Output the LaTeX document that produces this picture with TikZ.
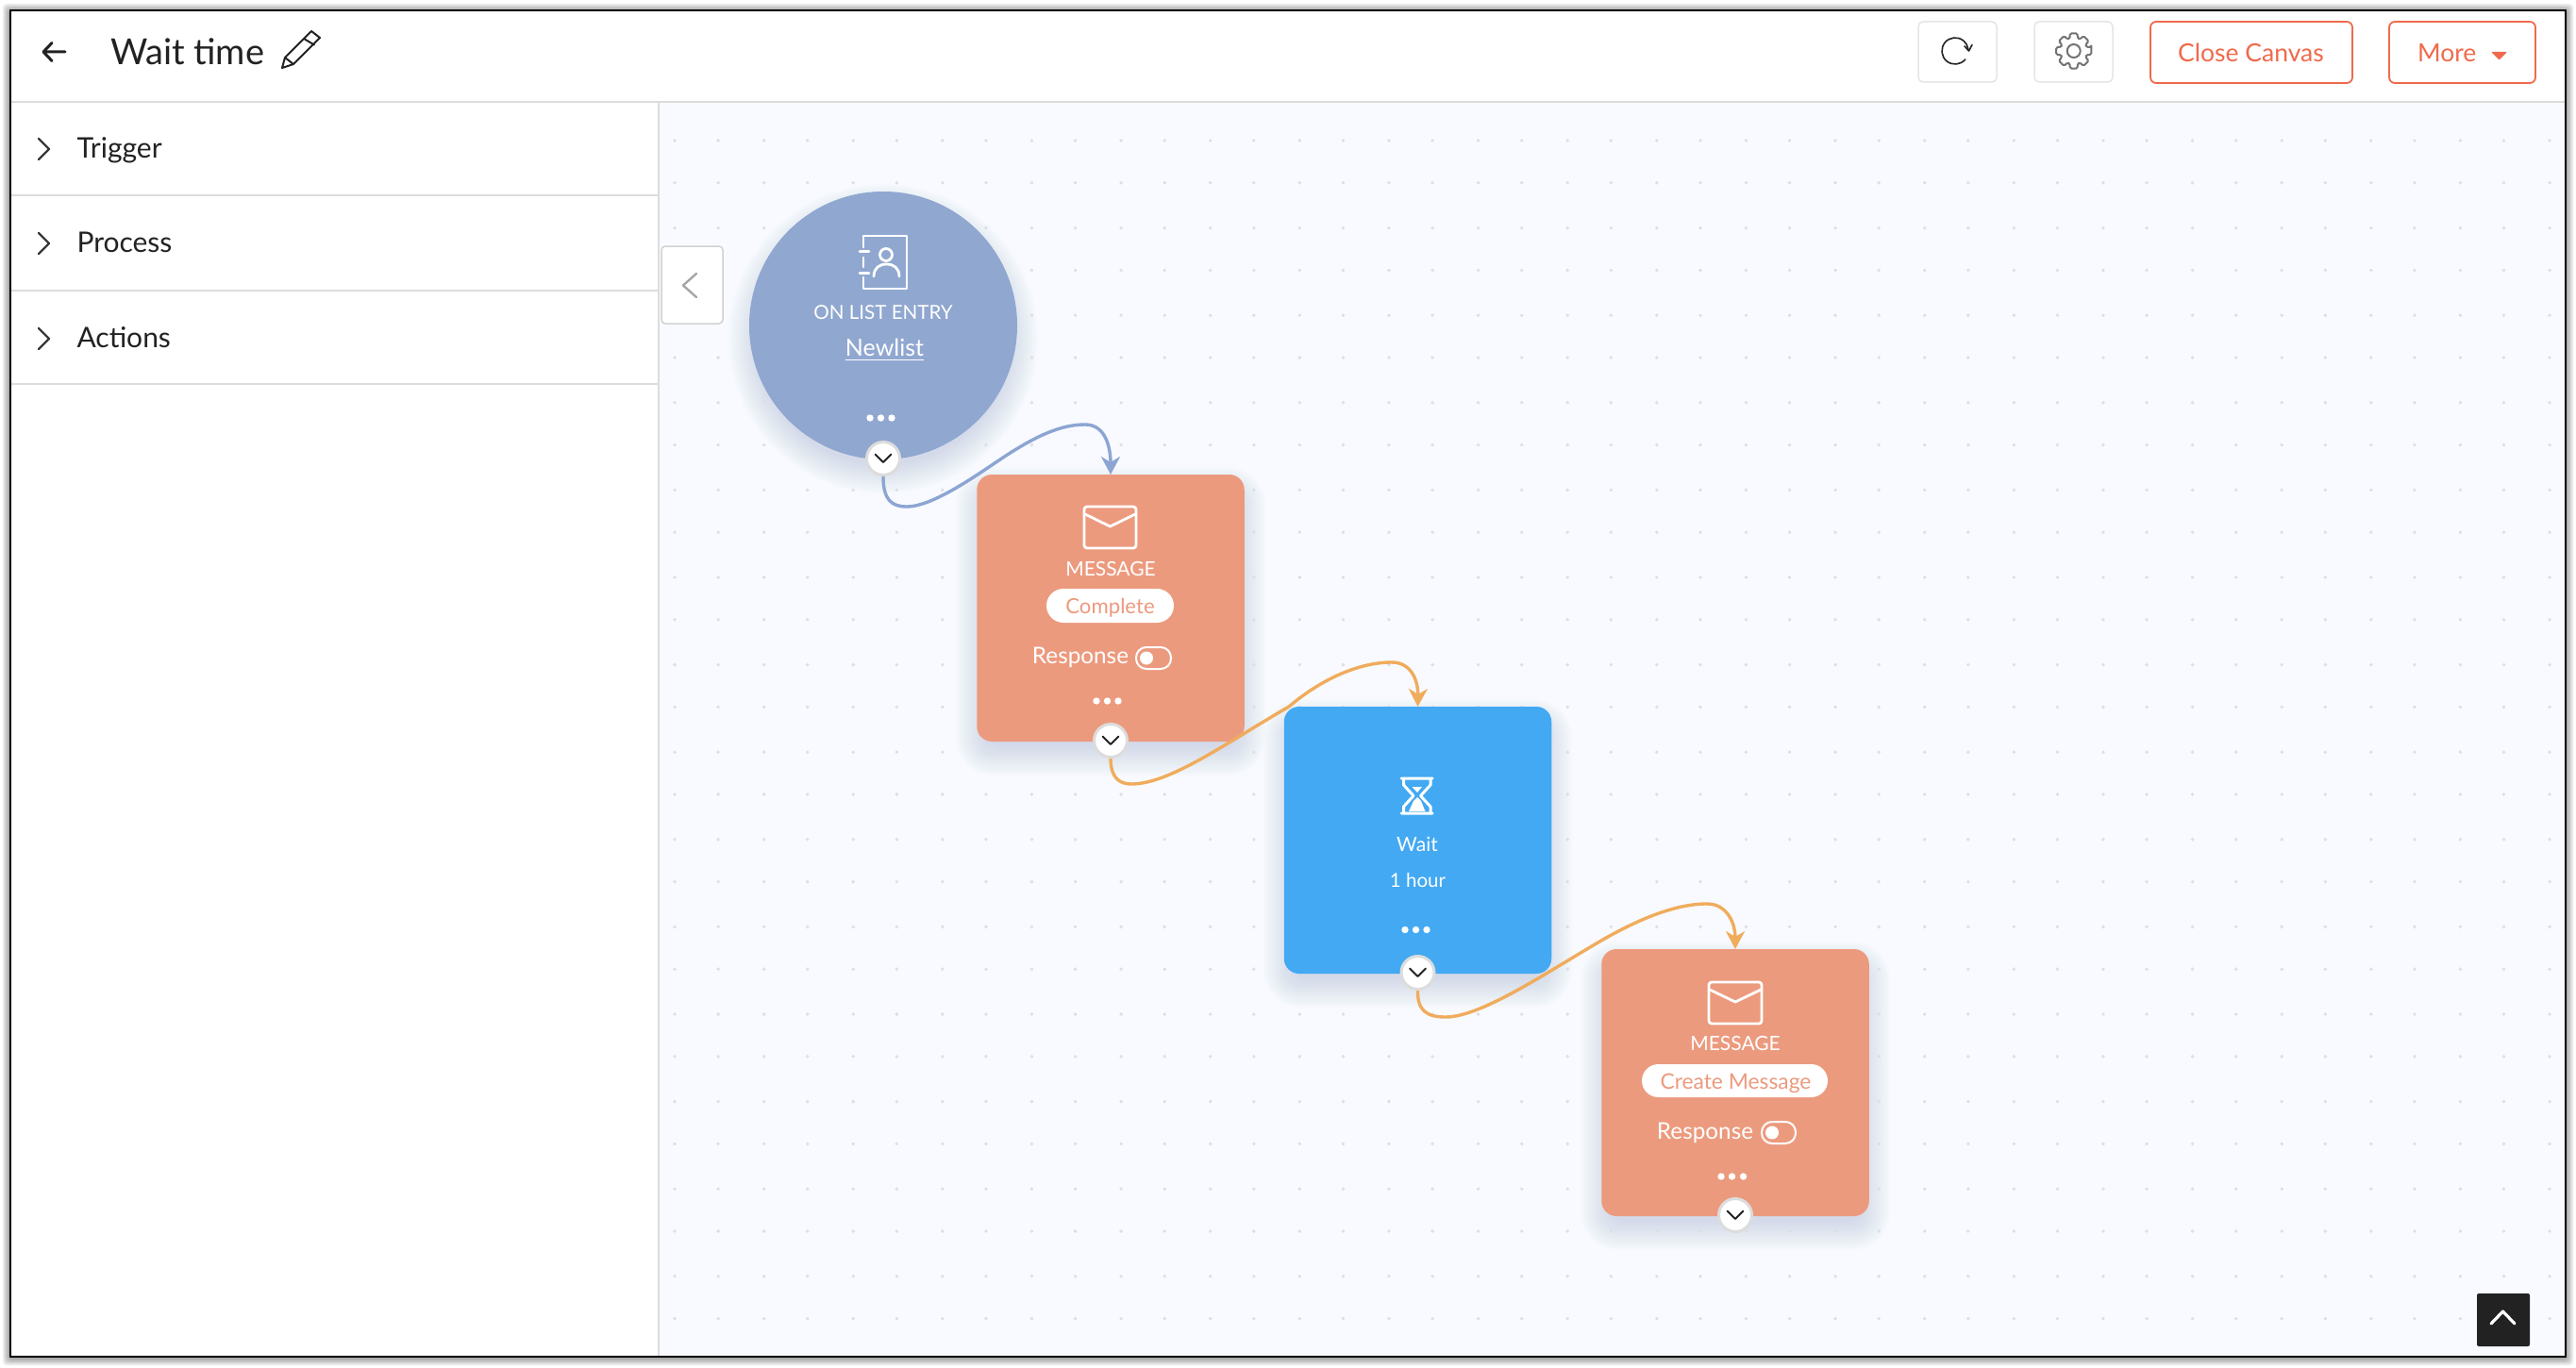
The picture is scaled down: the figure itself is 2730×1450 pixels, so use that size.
\documentclass[tikz,border=0pt]{standalone}
\usepackage{fontspec}
\setmainfont{Lato}
\usetikzlibrary{arrows.meta,calc}
\definecolor{canvasbg}{HTML}{F8FAFF}
\definecolor{griddot}{HTML}{DCDFE5}
\definecolor{rulec}{HTML}{DCDCDC}
\definecolor{inkc}{HTML}{222222}
\definecolor{accent}{HTML}{EF6A4C}
\definecolor{trigc}{HTML}{90A7D0}
\definecolor{msgc}{HTML}{EC9A7E}
\definecolor{waitc}{HTML}{42A9F2}
\definecolor{wireo}{HTML}{F0AC5C}
\definecolor{wireb}{HTML}{8CA5D3}
\definecolor{shadowc}{HTML}{6F8BB5}
\newcommand{\fsz}[1]{\fontsize{#1}{#1}\selectfont}
\newcommand{\boxshadow}[4]{%
  \foreach \i in {-8,-6,...,22}{
    \fill[shadowc,opacity=.017,rounded corners={18+max(\i,0)}]
      ({#1-\i},{#2-\i+14}) rectangle ({#3+\i},{#4+\i+14});
  }}
\tikzset{
  x=1pt,y=-1pt,
  txt/.style={inner sep=0pt,outer sep=0pt,anchor=base},
  txtl/.style={inner sep=0pt,outer sep=0pt,anchor=base west},
  wlabel/.style={txt,text=white},
  flow/.style={inner sep=0pt,outer sep=0pt,minimum width=283.5pt,minimum height=283pt,rounded corners=16pt},
  chev/.style={circle,fill=white,draw=rulec,line width=3pt,minimum size=35pt,inner sep=0pt},
  wire/.style={line width=3.4pt,-{Stealth[length=19pt,width=20pt,inset=6pt]}},
  iconw/.style={draw=white,line width=2.8pt,line cap=round,line join=round},
  tool/.style={draw=black!10,fill=white,line width=1.5pt,rounded corners=5pt},
  acc/.style={draw=accent,fill=white,line width=1.8pt,rounded corners=6pt},
  ruleln/.style={draw=rulec,line width=2pt},
  menuchev/.style={draw=inkc!90,line width=2.2pt,line cap=round,line join=round},
}
\begin{document}
\begin{tikzpicture}
\useasboundingbox (0,0) rectangle (2730,1450);
\fill[white] (0,0) rectangle (2730,1450);
% window shadow
\foreach \i in {1,...,5}{
  \fill[black,opacity=.08,rounded corners=4pt] ({11-\i*1.6},{11-\i*1.6+1}) rectangle ({2719+\i*1.6},{1438+\i*1.6+1});
}
\fill[white] (11,11) rectangle (2719,1438);
\fill[canvasbg] (698,108) rectangle (2719,1438);
% shadows
\foreach \i in {-8,-6,...,22}{
  \fill[shadowc,opacity=.017] (936,359) circle[radius={142+\i}];
}
\boxshadow{1035}{503}{1319}{786}
\boxshadow{1361}{749}{1644}{1032}
\boxshadow{1697}{1006}{1981}{1289}
% dot grid
\foreach \k in {0,...,42}{
  \foreach \j in {0,...,27}{
    \fill[griddot] ({715+47.31*\k-1.2*mod(\k,2)},{149+46.3*\j-1.5*mod(\j,2)}) circle[radius=1.9];
  }
}
% header and sidebar
\draw[draw=rulec,line width=2.4pt] (11,108) -- (2719,108);
\draw[ruleln] (698,108) -- (698,1438);
\draw[ruleln] (11,207) -- (698,207);
\draw[ruleln] (11,308) -- (698,308);
\draw[ruleln] (11,407) -- (698,407);
% header left
\draw[draw=inkc,line width=3pt,line cap=round,line join=round] (69,55) -- (46,55) (55,45.5) -- (46,55) -- (55,64.5);
\node[txtl,text=inkc,font=\fsz{38}] (title) at (117,69) {Wait time};
\draw[draw=inkc,line width=2pt,line join=round,line cap=round]
  (299,72) -- (302,61) -- (330,33) -- (339,40) -- (311,68) -- cycle
  (322,41) -- (333,47.5) (302,61) -- (311,68);
% header right
\draw[tool] (2033,23) rectangle (2116,87);
\draw[tool] (2156,23) rectangle (2239,87);
\draw[draw=inkc,line width=1.6pt,line cap=round] (2072,54) ++(40:14) arc[start angle=40,end angle=352,radius=14];
\draw[draw=inkc,line width=1.6pt,line cap=round,line join=round] (2082,49) -- (2086.5,54) -- (2090,47.5);
\begin{scope}[shift={(2197.7,54)}]
  \draw[draw=black!55,line width=2pt,rounded corners=1.5pt,line join=round] (-12:19)
    \foreach \a in {0,45,...,315}{ -- (\a-12:19) -- (\a+12:19) -- (\a+17:14) -- (\a+28:14) } -- cycle;
  \draw[draw=black!55,line width=2pt] (0,0) circle[radius=7];
\end{scope}
\draw[acc] (2279,23) rectangle (2493,88);
\node[txt,text=accent,font=\fsz{26.5}] (close) at (2385.5,66) {Close Canvas};
\draw[acc] (2532,23) rectangle (2687,88);
\node[txtl,text=accent,font=\fsz{26.5}] (more) at (2562,66) {More};
\fill[accent,rounded corners=1pt] (2640,55) -- (2657,55) -- (2648.5,63.5) -- cycle;
% sidebar
\foreach \y/\nm/\t/\b in {158/trig/Trigger/167.5,258/proc/Process/267.5,359/acts/Actions/368}{
  \draw[menuchev] (41,{\y-11}) -- (52,\y) -- (41,{\y+11});
  \node[txtl,text=inkc,font=\fsz{30}] (\nm) at (81.5,\b) {\t};
}
% collapse tab
\draw[draw=black!18,fill=white,line width=1.5pt,rounded corners=4pt] (701,261) rectangle (766,343);
\draw[draw=black!35,line width=2.4pt,line cap=round,line join=round] (738,290) -- (724,302.5) -- (738,315);
% bottom-right
\fill[inkc,rounded corners=2pt] (2625,1371) rectangle (2681,1427);
\draw[draw=white,line width=3.2pt,line cap=round,line join=round] (2640,1403) -- (2652.5,1390) -- (2665,1403);
% nodes
\node[circle,fill=trigc,minimum size=284pt,inner sep=0pt,outer sep=0pt] (listnode) at (936,345) {};
\node[flow,fill=msgc] (msgone) at (1177,644.5) {};
\node[flow,fill=waitc] (waitnode) at (1502.5,890.5) {};
\node[flow,fill=msgc] (msgtwo) at (1839,1147.5) {};
% trigger content
\draw[iconw] (915,262) -- (915,250) -- (961,250) -- (961,306) -- (915,306) -- (915,294);
\draw[iconw] (915,273) -- (915,283);
\draw[iconw] (911,266.5) -- (921,266.5) (911,289.5) -- (921,289.5);
\draw[iconw] (939,270) circle[radius=6.5];
\draw[iconw] (926,293) .. controls (926,284) and (932,280) .. (939.5,280) .. controls (947,280) and (953,284) .. (953,293);
\node[wlabel,font=\fsz{20.6}] (listlabel) at (936,338.5) {ON LIST ENTRY};
\node[wlabel,font=\fsz{25}] (newlist) at (937.5,377.5) {Newlist};
\draw[draw=white,line width=1.8pt] ([yshift=-4pt]newlist.base west) -- ([yshift=-4pt]newlist.base east);
\foreach \x in {922,933.5,945}{\fill[white] (\x,443) circle[radius=3.7];}
% message one content
\draw[iconw,rounded corners=3pt] (1149,537) rectangle (1204,581);
\draw[iconw] (1150,545) -- (1176.5,558) -- (1203,545);
\node[wlabel,font=\fsz{21}] (msgonelabel) at (1177,610.5) {MESSAGE};
\fill[white,rounded corners=18pt] (1109,624) rectangle (1244,660);
\node[txt,text=msgc,font=\fsz{22.2}] (complete) at (1176.5,650.5) {Complete};
\node[wlabel,font=\fsz{24.3}] (respone) at (1145,703.5) {Response};
\draw[draw=white,line width=2pt,rounded corners=11pt] (1204,686) rectangle (1241,709);
\fill[white] (1215,697.5) circle[radius=7];
\foreach \x in {1162,1173.5,1185}{\fill[white] (\x,743) circle[radius=3.7];}
% wait content
\draw[draw=white,line width=3pt,line cap=round,line join=round]
  (1485,825) -- (1518,825) (1485,862) -- (1518,862)
  (1487.5,825) -- (1487.5,832) -- (1498,843.5) -- (1487.5,855) -- (1487.5,862)
  (1516,825) -- (1516,832) -- (1505.5,843.5) -- (1516,855) -- (1516,862);
\fill[white] (1496.5,834) -- (1507,834) -- (1502,840) -- cycle;
\fill[white] (1493,860) -- (1510.5,860) -- (1506,849) -- (1502,845) -- (1498,849) -- cycle;
\node[wlabel,font=\fsz{21}] (waitlabel) at (1502,902) {Wait};
\node[wlabel,font=\fsz{20.5}] (hourlabel) at (1502.5,940) {1 hour};
\foreach \x in {1489,1500.5,1512}{\fill[white] (\x,985.5) circle[radius=3.7];}
% message two content
\draw[iconw,rounded corners=3pt] (1811,1041) rectangle (1867,1085);
\draw[iconw] (1812,1049) -- (1839,1062) -- (1866,1049);
\node[wlabel,font=\fsz{21}] (msgtwolabel) at (1839,1113.5) {MESSAGE};
\fill[white,rounded corners=17.5pt] (1740,1128) rectangle (1937,1163);
\node[txt,text=msgc,font=\fsz{22.8}] (create) at (1839.5,1154.5) {Create Message};
\node[wlabel,font=\fsz{24.3}] (resptwo) at (1807,1207.5) {Response};
\draw[draw=white,line width=2pt,rounded corners=11pt] (1867,1189) rectangle (1903,1212);
\fill[white] (1878,1200.5) circle[radius=7];
\foreach \x in {1824,1835.5,1847.5}{\fill[white] (\x,1247) circle[radius=3.7];}
% chevron buttons
\foreach \nm/\x/\y in {cone/936/486,ctwo/1177/785,cthree/1502.5/1031,cfour/1839/1288}{
  \node[chev] (\nm) at (\x,\y) {};
  \draw[draw=inkc,line width=2pt,line cap=round,line join=round] ({\x-8.5},{\y-4.5}) -- (\x,{\y+4}) -- ({\x+8.5},{\y-4.5});
}
% connectors
\draw[wire,color=wireb]
  (cone.south) .. controls (936,530) and (945,537) .. (961,537)
  .. controls (990,537) and (1040,500) .. (1066,483)
  .. controls (1100,461) and (1125,450) .. (1150,450)
  .. controls (1172,450) and (1177,475) .. (msgone.north);
\draw[wire,color=wireo]
  (ctwo.south) .. controls (1177,824) and (1186,831) .. (1199,831)
  .. controls (1240,831) and (1300,787) .. (1366,749)
  .. controls (1400,720) and (1440,702) .. (1475,702)
  .. controls (1496,702) and (1503,722) .. (waitnode.north);
\draw[wire,color=wireo]
  (cthree.south) .. controls (1502,1071) and (1512,1078) .. (1532,1078)
  .. controls (1570,1078) and (1640,1030) .. (1697,997)
  .. controls (1735,975) and (1775,958) .. (1809,958)
  .. controls (1830,958) and (1839,978) .. (msgtwo.north);
% window border
\draw[draw=black,line width=2.8pt] (11,11) rectangle (2719,1438);
\end{tikzpicture}
\end{document}
